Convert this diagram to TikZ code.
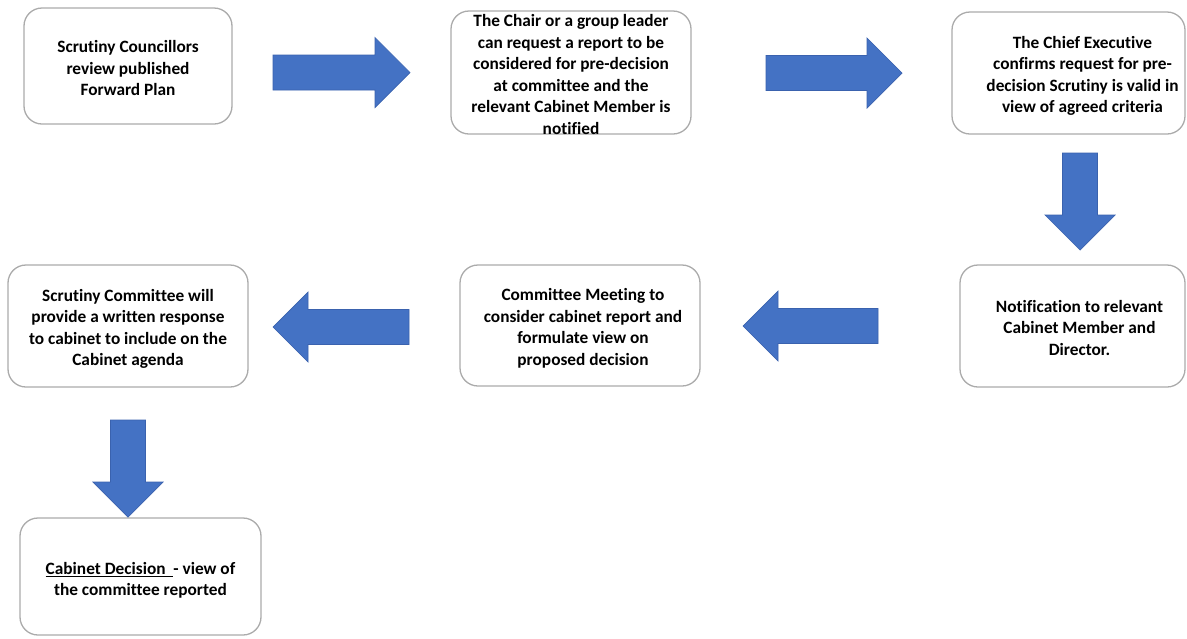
\documentclass[tikz,border=0pt]{standalone}
\usepackage{fontspec}
\setmainfont{Carlito}[Ligatures=NoCommon]
\definecolor{arrowfill}{HTML}{4472C4}
\definecolor{arrowline}{HTML}{3A62AE}
\definecolor{boxline}{HTML}{ABABAB}
\tikzset{
  box/.style={draw=boxline, line width=1.3pt, rounded corners=18pt, fill=white},
  boxtext/.style={align=center, inner sep=0pt, text=black,
    font=\fontsize{17.3}{21.5}\selectfont\bfseries},
  pics/blockarrow/.style={code={
    \fill[arrowfill, draw=arrowline, line width=.7pt]
      (0,-17.5) -- (#1-35,-17.5) -- (#1-35,-35) -- (#1,0)
      -- (#1-35,35) -- (#1-35,17.5) -- (0,17.5) -- cycle;
  }}
}
\begin{document}
\begin{tikzpicture}[x=1pt,y=-1pt]
\useasboundingbox[fill=white] (0,0) rectangle (1187,638);

% top row
\node[box, minimum width=208pt, minimum height=116pt] (review) at (128,66) {};
\node[boxtext] at ([yshift=-2pt]review.center) {Scrutiny Councillors\\review published\\Forward Plan};
\node[box, minimum width=240pt, minimum height=123pt] (request) at (571,72.5) {};
\node[boxtext] at ([yshift=-2pt]request.center) {The Chair or a group leader\\can request a report to be\\considered for pre-decision\\at committee and the\\relevant Cabinet Member is\\notified};
\node[box, minimum width=233pt, minimum height=122pt] (confirm) at (1068.5,73) {};
\node[boxtext] at ([xshift=14pt,yshift=-3pt]confirm.center) {The Chief Executive\\confirms request for pre-\\decision Scrutiny is valid in\\view of agreed criteria};

% middle row
\node[box, minimum width=225pt, minimum height=122pt] (notify) at (1072.5,326) {};
\node[boxtext] at ([xshift=7pt,yshift=-1.5pt]notify.center) {Notification to relevant\\Cabinet Member and\\Director.};
\node[box, minimum width=240pt, minimum height=121pt] (meeting) at (580,325.5) {};
\node[boxtext] at ([xshift=3pt,yshift=-3pt]meeting.center) {Committee Meeting to\\consider cabinet report and\\formulate view on\\proposed decision};
\node[box, minimum width=240pt, minimum height=122pt] (response) at (128,326) {};
\node[boxtext] at ([yshift=-3pt]response.center) {Scrutiny Committee will\\provide a written response\\to cabinet to include on the\\Cabinet agenda};

% bottom
\node[box, minimum width=241pt, minimum height=117pt] (decision) at (140.5,576.5) {};
\node[boxtext] at ([yshift=-4pt]decision.center) {\underline{Cabinet Decision~~}- view of\\the committee reported};

% arrows
\pic at (273,72.5) {blockarrow=137};
\pic at (766,73) {blockarrow=136};
\pic[rotate=-90] at (1080,153) {blockarrow=97};
\pic[rotate=180] at (878,326) {blockarrow=135};
\pic[rotate=180] at (409,327) {blockarrow=136};
\pic[rotate=-90] at (128,420) {blockarrow=97};

\end{tikzpicture}
\end{document}
